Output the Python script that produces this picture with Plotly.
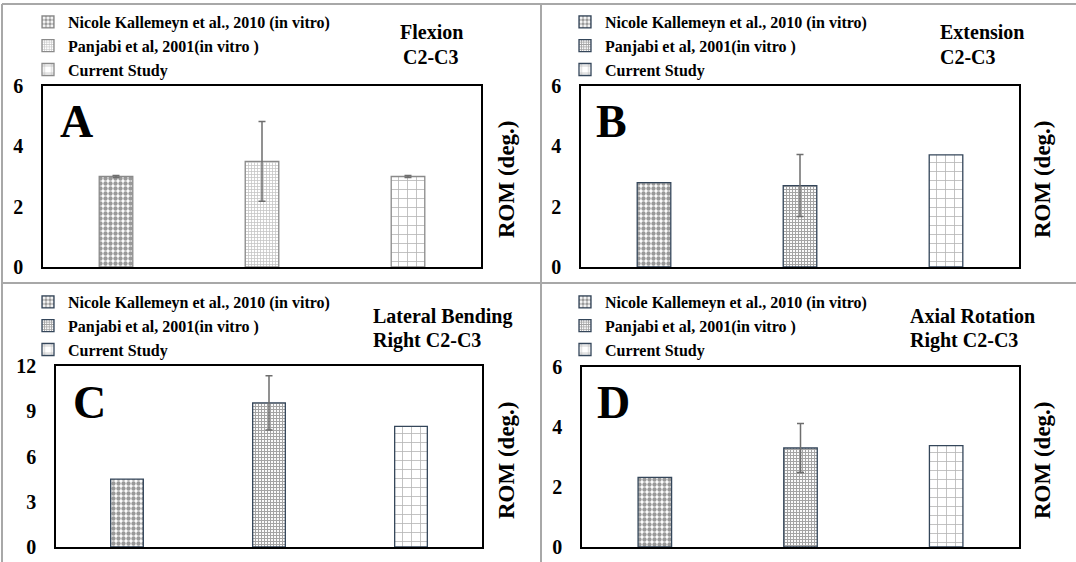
import plotly.graph_objects as go

# ---------------- data ----------------
series_names = ["Nicole Kallemeyn et al., 2010 (in vitro)",
                "Panjabi et al, 2001(in vitro )",
                "Current Study"]
panel_letters = ["A", "B", "C", "D"]
panel_title_1 = ["Flexion", "Extension", "Lateral Bending", "Axial Rotation"]
panel_title_2 = ["C2-C3", "C2-C3", "Right C2-C3", "Right C2-C3"]

flexion_rom = [3.0, 3.5, 3.0]
flexion_err = [0.03, 1.32, 0.03]
extension_rom = [2.8, 2.7, 3.72]
extension_err = [0.0, 1.03, 0.0]
lateral_rom = [4.5, 9.55, 8.0]
lateral_err = [0.0, 1.8, 0.0]
axial_rom = [2.32, 3.3, 3.38]
axial_err = [0.0, 0.82, 0.0]

y_ticks_small = [0, 2, 4, 6]
y_ticks_large = [0, 3, 6, 9, 12]

panel_values = [flexion_rom, extension_rom, lateral_rom, axial_rom]
panel_errors = [flexion_err, extension_err, lateral_err, axial_err]
panel_ticks = [y_ticks_small, y_ticks_small, y_ticks_large, y_ticks_small]

# ---------------- layout geometry (pixels) ----------------
W, H = 1076, 562
FONT = "Liberation Serif"

def px(x):
    return x / W

def py(y):
    return 1 - y / H

# plot boxes: (left, right, top, bottom)
boxes = [(43, 481, 86, 267), (581, 1019, 86, 267),
         (56, 482, 366, 547), (582, 1019, 367, 547)]

def pattern_styles(panel):
    pan_fg = "#8a8a8a" if panel == 0 else "#4a4a4a"
    pan_sol = 0.45 if panel == 0 else 0.6
    outline = "#8a8a8a" if panel == 0 else "#34465a"
    return [
        dict(pattern=dict(shape=".", size=5, solidity=0.6, fgcolor="#333333", bgcolor="white"),
             line=dict(color=outline, width=1.3)),
        dict(pattern=dict(shape="+", size=3, solidity=pan_sol, fgcolor=pan_fg, bgcolor="white"),
             line=dict(color=outline, width=1.3)),
        dict(pattern=dict(shape="+", size=9, solidity=0.17, fgcolor="#6a6a6a", bgcolor="white"),
             line=dict(color=outline, width=1.3)),
    ]

fig = go.Figure()
legend_names = ["legend", "legend2", "legend3", "legend4"]

for p in range(4):
    xa = "x" if p == 0 else f"x{p+1}"
    ya = "y" if p == 0 else f"y{p+1}"
    styles = pattern_styles(p)
    for i, name in enumerate(series_names):
        err = panel_errors[p][i]
        fig.add_trace(go.Bar(
            x=[i], y=[panel_values[p][i]], name=name,
            width=0.23, xaxis=xa, yaxis=ya,
            marker=dict(color="white", pattern=styles[i]["pattern"], line=styles[i]["line"]),
            error_y=dict(type="data", array=[err], visible=err > 0,
                         color="#6e6e6e", thickness=1.5, width=3.5),
            legend=legend_names[p], showlegend=True,
        ))

layout = dict(
    width=W, height=H, margin=dict(l=0, r=0, t=0, b=0, autoexpand=False),
    paper_bgcolor="white", plot_bgcolor="white",
    barmode="overlay", showlegend=True,
    font=dict(family=FONT, color="black"),
)

legend_x_px = [28, 565, 28, 565]
legend_y_px = [5, 5, 285, 285]

annotations = []
shapes = []
for p in range(4):
    l, r, t, b = boxes[p]
    sfx = "" if p == 0 else str(p + 1)
    ticks = panel_ticks[p]
    layout["xaxis" + sfx] = dict(
        domain=[px(l), px(r)], range=[-0.5, 2.5], anchor="y" + sfx,
        showticklabels=False, ticks="", showgrid=False, zeroline=False,
        showline=True, linecolor="black", linewidth=1.5, mirror=True,
        fixedrange=True,
    )
    layout["yaxis" + sfx] = dict(
        domain=[py(b), py(t)], range=[0, ticks[-1]], anchor="x" + sfx,
        tickvals=ticks, ticktext=[str(v) for v in ticks],
        tickfont=dict(family=FONT, size=20, color="black", weight="bold"),
        ticklabelstandoff=14,
        ticks="", showgrid=False, zeroline=False,
        showline=True, linecolor="black", linewidth=1.5, mirror=True,
        fixedrange=True,
    )
    layout[legend_names[p]] = dict(
        x=px(legend_x_px[p]), y=py(legend_y_px[p]), xanchor="left", yanchor="top",
        bgcolor="rgba(0,0,0,0)", borderwidth=0, tracegroupgap=0,
        font=dict(family=FONT, size=16, color="black", weight="bold"),
        itemclick=False, itemdoubleclick=False,
    )

# big panel letters
letter_pos = [(58, 121), (594, 122), (71, 402), (595, 402)]
for p, (lx, ly) in enumerate(letter_pos):
    annotations.append(dict(
        text=panel_letters[p], x=px(lx), y=py(ly), xref="paper", yref="paper",
        xanchor="left", yanchor="middle", showarrow=False,
        font=dict(family=FONT, size=46, color="black", weight="bold")))

# panel titles (two lines)
title_specs = [
    ((431, 32), (431, 57), "center"),
    ((938, 32), (938, 57), "left"),
    ((371, 316), (371, 340), "left"),
    ((908, 316), (908, 340), "left"),
]
for p, (pos1, pos2, anchor) in enumerate(title_specs):
    for txt, (tx, ty) in ((panel_title_1[p], pos1), (panel_title_2[p], pos2)):
        annotations.append(dict(
            text=txt, x=px(tx), y=py(ty), xref="paper", yref="paper",
            xanchor=anchor, yanchor="middle", showarrow=False,
            font=dict(family=FONT, size=20, color="black", weight="bold")))

# y-axis titles on the right
rom_pos = [(506, 179), (1042, 179), (506, 460), (1042, 460)]
for (rx, ry) in rom_pos:
    annotations.append(dict(
        text="ROM (deg.)", x=px(rx), y=py(ry), xref="paper", yref="paper",
        xanchor="center", yanchor="middle", textangle=-90, showarrow=False,
        font=dict(family=FONT, size=23, color="black", weight="bold")))

# panel frame lines
frame = dict(color="#a8a8a8", width=2)
shapes.append(dict(type="line", xref="paper", yref="paper", x0=px(2), x1=1, y0=py(4), y1=py(4), line=frame))
shapes.append(dict(type="line", xref="paper", yref="paper", x0=px(2), x1=px(2), y0=py(4), y1=0, line=frame))
shapes.append(dict(type="line", xref="paper", yref="paper", x0=px(541), x1=px(541), y0=py(4), y1=0, line=frame))
shapes.append(dict(type="line", xref="paper", yref="paper", x0=px(2), x1=1, y0=py(283), y1=py(283), line=frame))

layout["annotations"] = annotations
layout["shapes"] = shapes
fig.update_layout(**layout)

fig.write_html("out.html", config={"displayModeBar": False},
               post_script="document.body.style.margin='0';document.body.style.overflow='hidden';")
